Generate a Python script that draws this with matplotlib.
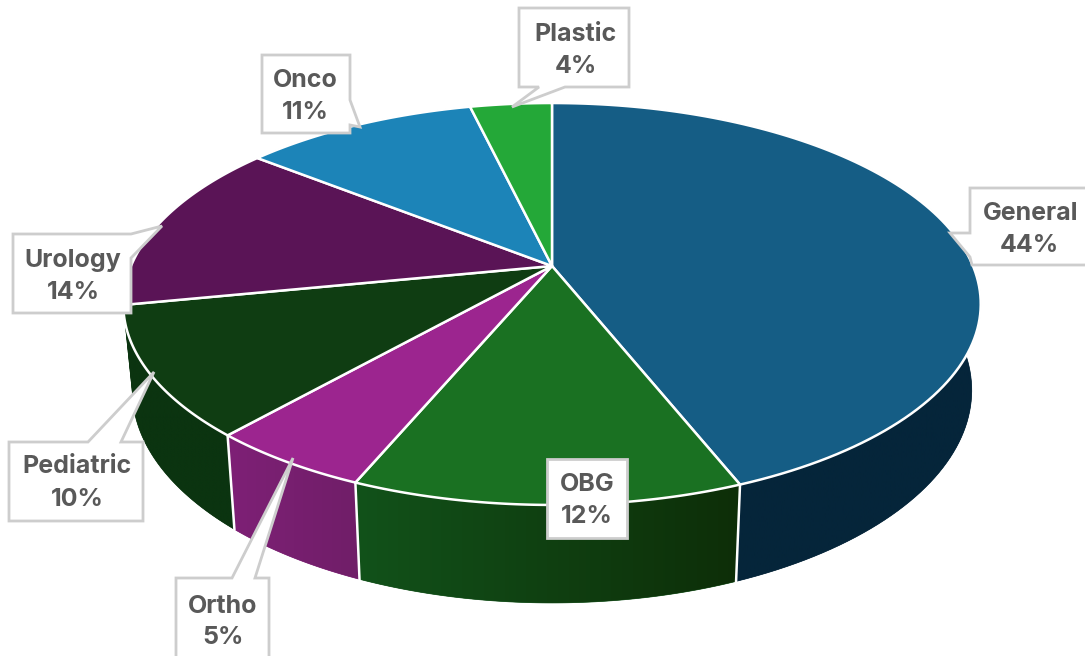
import numpy as np
import matplotlib
matplotlib.use("Agg")
import matplotlib.pyplot as plt
from matplotlib.patches import Polygon

#data
names = ["General", "OBG", "Ortho", "Pediatric", "Urology", "Onco", "Plastic"]
shares = [44.0, 12.3, 5.2, 10.4, 13.8, 10.6, 3.7]
share_labels = ["44%", "12%", "5%", "10%", "14%", "11%", "4%"]

#styles
top_colors = ["#155d85", "#1a7122", "#9c258f", "#0f3d12", "#5a1456", "#1c84b8", "#24a838"]
wall_left = ["#05253a", "#12521a", "#7e2076", "#0b3410", "#0b3410", "#0b3410", "#05253a"]
wall_right = ["#05253a", "#0d2e08", "#701e68", "#0b3410", "#0b3410", "#0b3410", "#05253a"]

#label boxes, tail points are part of the outline
outlines = [
    [(970, 188), (1092, 188), (1092, 265), (972, 265), (970, 257), (950, 233), (970, 233)],
    [(547, 459), (627, 459), (627, 538), (547, 538)],
    [(176, 578), (232, 578), (293, 458), (255, 578), (269, 578), (269, 662), (176, 662)],
    [(9, 442), (88, 442), (154, 372), (121, 442), (143, 442), (143, 521), (9, 521)],
    [(13, 234), (131, 234), (162, 226), (131, 258), (131, 313), (13, 313)],
    [(262, 55), (350, 55), (350, 100), (360, 127), (350, 125), (350, 133), (262, 133)],
    [(519, 8), (629, 8), (629, 87), (565, 87), (512, 107), (539, 87), (519, 87)],
]
#text baselines
name_pos = [(1031, 220), (587, 491), (223, 613), (77, 473), (73, 267), (305, 87), (576, 41)]
share_pos = [(1029, 252), (587, 523), (223, 644), (77, 506), (73, 299), (305, 119), (576, 73)]

#perspective of the pie top
cx, cy = 552, 266
persp = 0.189
rx = 421
ry = -143.5


def top_xy(theta):
    # theta clockwise from 12 o'clock, radians
    px = np.sin(theta)
    py = np.cos(theta)
    d = 1 + persp * py
    return cx + rx * px / d, (cy + ry * py) / d


def bottom_xy(theta):
    x, y = top_xy(theta)
    return cx + 0.979 * (x - cx), 1.058 * y + 98 - 0.058 * 505


fig = plt.figure(figsize=(10.85, 6.56), dpi=100)
ax = fig.add_axes([0, 0, 1, 1])
ax.set_xlim(0, 1085)
ax.set_ylim(656, 0)
ax.axis("off")

edges = np.radians(np.concatenate([[0], np.cumsum(shares)]) * 3.6)

#walls first, the top covers the back part
for i in range(len(shares)):
    t = np.linspace(edges[i], edges[i + 1], 120)
    xt, yt = top_xy(t)
    xb, yb = bottom_xy(t)
    px = np.concatenate([xt, xb[::-1]])
    py = np.concatenate([yt, yb[::-1]])
    wall = Polygon(np.column_stack([px, py]), closed=True, facecolor=wall_left[i], edgecolor=wall_left[i], lw=0.5, zorder=1)
    ax.add_patch(wall)
    a = np.array(matplotlib.colors.to_rgb(wall_left[i]))
    b = np.array(matplotlib.colors.to_rgb(wall_right[i]))
    grad = a + (b - a) * np.linspace(0, 1, 256)[None, :, None]
    im = ax.imshow(grad, extent=(px.min(), px.max(), py.max(), py.min()), aspect="auto", zorder=1.1)
    im.set_clip_path(wall)

ax.set_xlim(0, 1085)
ax.set_ylim(656, 0)

#white dividers on the visible wall
for e in edges[1:4]:
    xt, yt = top_xy(e)
    xb, yb = bottom_xy(e)
    ax.plot([xt, xb], [yt, yb], color="white", lw=1.8, zorder=2)

#pie top
for i in range(len(shares)):
    t = np.linspace(edges[i], edges[i + 1], 120)
    xt, yt = top_xy(t)
    px = np.concatenate([[cx], xt])
    py = np.concatenate([[cy], yt])
    ax.add_patch(Polygon(np.column_stack([px, py]), closed=True, facecolor=top_colors[i],
                         edgecolor="white", lw=1.8, joinstyle="round", zorder=3))

#labels
for i in range(len(names)):
    ax.add_patch(Polygon(outlines[i], closed=True, facecolor="white", edgecolor="#cdcdcd", lw=2, zorder=4))
    ax.text(name_pos[i][0], name_pos[i][1], names[i], ha="center", va="baseline", family="Inter",
            weight="bold", fontsize=18, color="#595959", zorder=5)
    ax.text(share_pos[i][0], share_pos[i][1], share_labels[i], ha="center", va="baseline", family="Inter",
            weight="bold", fontsize=18, color="#595959", zorder=5)

fig.savefig("out.png", dpi=100)
